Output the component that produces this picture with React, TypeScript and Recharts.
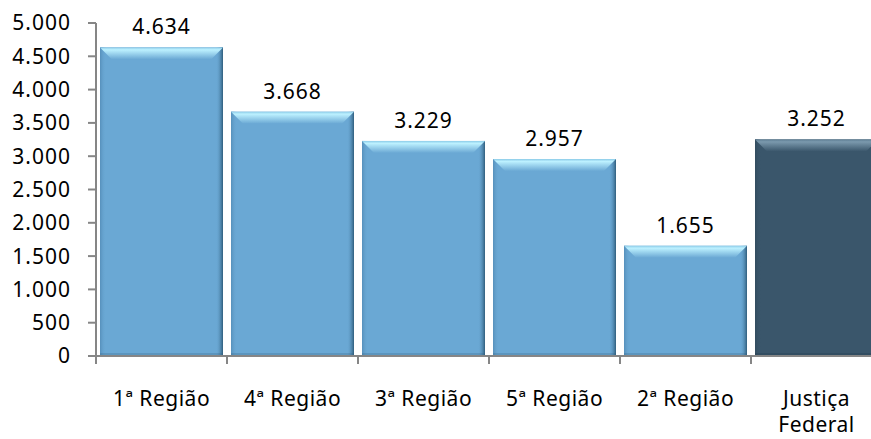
import { BarChart, Bar, XAxis, YAxis, LabelList, Cell } from 'recharts';

const categories = ['1ª Região', '4ª Região', '3ª Região', '5ª Região', '2ª Região', 'Justiça\nFederal'];
const values = [4634, 3668, 3229, 2957, 1655, 3252];
const yTicks = [0, 500, 1000, 1500, 2000, 2500, 3000, 3500, 4000, 4500, 5000];

const CHART_W = 882;
const CHART_H = 439;
const Y_AXIS_W = 96;
const X_AXIS_H = 83;
const BAND = (CHART_W - Y_AXIS_W) / categories.length;

const FONT = '"Noto Sans", "Open Sans", sans-serif';
const AXIS_GRAY = '#868686';
const SPACING = 1;

const fmt = (v: number) => String(v).replace(/\B(?=(\d{3})+(?!\d))/g, '.');

const data = categories.map((name, i) => ({ name, value: values[i] }));

const palettes = {
  light: { base: '#6aa8d4', top: '#bdf1ff', edge: '#8ccbe8', right: '#2f5d7c', left: '#5690bb' },
  dark: { base: '#3a566b', top: '#7b99ad', edge: '#5d7d93', right: '#1d3342', left: '#324c5f' },
};

function BevelBar(props: any) {
  const { x, y, width, height, index } = props;
  if (!height || height <= 0) return null;
  const p = index === categories.length - 1 ? palettes.dark : palettes.light;
  const b = Math.min(12, height / 2);
  const id = `bar${index}`;
  return (
    <g>
      <defs>
        <linearGradient id={`${id}-top`} x1="0" y1="0" x2="0" y2="1">
          <stop offset="0%" stopColor={p.edge} />
          <stop offset="20%" stopColor={p.top} />
          <stop offset="100%" stopColor={p.base} />
        </linearGradient>
        <linearGradient id={`${id}-right`} x1="0" y1="0" x2="1" y2="0">
          <stop offset="0%" stopColor={p.base} stopOpacity={0} />
          <stop offset="100%" stopColor={p.right} />
        </linearGradient>
        <linearGradient id={`${id}-left`} x1="0" y1="0" x2="1" y2="0">
          <stop offset="0%" stopColor={p.left} />
          <stop offset="100%" stopColor={p.base} stopOpacity={0} />
        </linearGradient>
      </defs>
      <rect x={x} y={y} width={width} height={height} fill={p.base} />
      <rect x={x} y={y} width={6} height={height} fill={`url(#${id}-left)`} />
      <rect x={x + width - 7} y={y} width={7} height={height} fill={`url(#${id}-right)`} />
      <rect x={x} y={y + height - 3} width={width} height={3} fill={p.right} opacity={0.25} />
      <polygon
        points={`${x},${y} ${x + width},${y} ${x + width - b},${y + b} ${x + b},${y + b}`}
        fill={`url(#${id}-top)`}
      />
    </g>
  );
}

function ValueLabel(props: any) {
  const { x, y, width, value } = props;
  return (
    <text
      x={x + width / 2}
      y={y - 13}
      textAnchor="middle"
      fontFamily={FONT}
      fontSize={21}
      letterSpacing={SPACING}
      fill="#000"
    >
      {fmt(value)}
    </text>
  );
}

function CategoryTick(props: any) {
  const { x, y, payload, index } = props;
  const lines = String(payload.value).split('\n');
  const left = x - BAND / 2;
  return (
    <g>
      <line x1={left} y1={y} x2={left} y2={y + 8} stroke={AXIS_GRAY} strokeWidth={2} />
      {index === categories.length - 1 && (
        <line x1={left + BAND} y1={y} x2={left + BAND} y2={y + 8} stroke={AXIS_GRAY} strokeWidth={2} />
      )}
      <text
        x={x}
        y={y + 50}
        textAnchor="middle"
        fontFamily={FONT}
        fontSize={21}
        letterSpacing={0.5}
        fill="#000"
      >
        {lines.map((l, i) => (
          <tspan key={i} x={x} dy={i === 0 ? 0 : 26}>
            {l}
          </tspan>
        ))}
      </text>
    </g>
  );
}

export default function App() {
  return (
    <div
      style={{
        position: 'absolute',
        left: 0,
        top: 0,
        width: 871,
        height: 439,
        overflow: 'hidden',
        background: '#fff',
      }}
    >
      <BarChart
        width={CHART_W}
        height={CHART_H}
        data={data}
        margin={{ top: 23, right: 0, bottom: 0, left: 0 }}
        barCategoryGap={4}
      >
        <XAxis
          dataKey="name"
          height={X_AXIS_H}
          interval={0}
          tickLine={false}
          tickSize={0}
          tickMargin={0}
          axisLine={{ stroke: AXIS_GRAY, strokeWidth: 2 }}
          tick={<CategoryTick />}
        />
        <YAxis
          width={Y_AXIS_W}
          domain={[0, 5000]}
          ticks={yTicks}
          interval={0}
          tickSize={8}
          tickMargin={17}
          tickFormatter={fmt}
          axisLine={{ stroke: AXIS_GRAY, strokeWidth: 2 }}
          tickLine={{ stroke: AXIS_GRAY, strokeWidth: 2 }}
          tick={{ fontFamily: FONT, fontSize: 21, fill: '#000', letterSpacing: SPACING }}
        />
        <Bar dataKey="value" shape={<BevelBar />} isAnimationActive={false}>
          {data.map((d) => (
            <Cell key={d.name} />
          ))}
          <LabelList dataKey="value" content={<ValueLabel />} />
        </Bar>
      </BarChart>
    </div>
  );
}
